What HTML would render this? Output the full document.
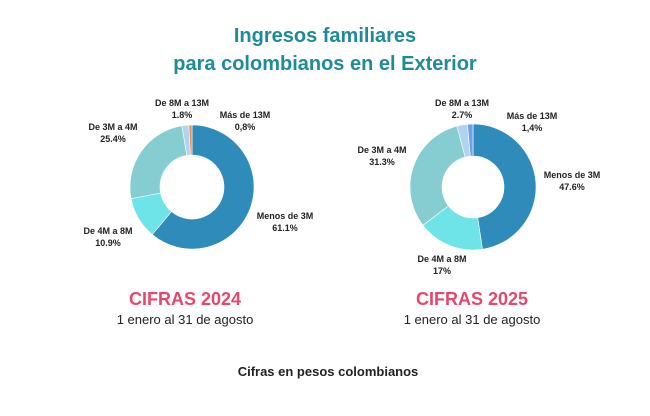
<!DOCTYPE html>
<html><head><meta charset="utf-8"><style>
body{margin:0;background:#fff;width:650px;height:411px;overflow:hidden;font-family:"Liberation Sans",sans-serif}
svg text{font-family:"Liberation Sans",sans-serif}
</style></head><body>
<svg id="s" width="650" height="411" xmlns="http://www.w3.org/2000/svg">
<text x="325" y="42" text-anchor="middle" font-size="20" font-weight="bold" fill="#1e8b99">Ingresos familiares</text>
<text x="325" y="70" text-anchor="middle" font-size="20" font-weight="bold" fill="#1e8b99">para colombianos en el Exterior</text>
<g font-size="9" font-weight="bold" fill="#222" text-anchor="middle">
<text x="182" y="106">De 8M a 13M</text><text x="182" y="118">1.8%</text>
<text x="245" y="118">Más de 13M</text><text x="245" y="130">0,8%</text>
<text x="113" y="130">De 3M a 4M</text><text x="113" y="142">25.4%</text>
<text x="285" y="219">Menos de 3M</text><text x="285" y="231">61.1%</text>
<text x="108" y="234">De 4M a 8M</text><text x="108" y="246">10.9%</text>
<text x="462" y="106">De 8M a 13M</text><text x="462" y="118">2.7%</text>
<text x="532" y="119">Más de 13M</text><text x="532" y="131">1,4%</text>
<text x="382" y="153">De 3M a 4M</text><text x="382" y="165">31.3%</text>
<text x="572" y="178">Menos de 3M</text><text x="572" y="190">47.6%</text>
<text x="442" y="262">De 4M a 8M</text><text x="442" y="274">17%</text>
</g>
<text x="185" y="305" text-anchor="middle" font-size="18" font-weight="bold" fill="#e6476b">CIFRAS 2024</text>
<text x="185" y="324" text-anchor="middle" font-size="13" fill="#222">1 enero al 31 de agosto</text>
<text x="472" y="305" text-anchor="middle" font-size="18" font-weight="bold" fill="#e6476b">CIFRAS 2025</text>
<text x="472" y="324" text-anchor="middle" font-size="13" fill="#222">1 enero al 31 de agosto</text>
<text x="328" y="376" text-anchor="middle" font-size="13" font-weight="bold" fill="#222">Cifras en pesos colombianos</text>
</svg>
<script>
function donut(cx,cy,R,r,vals,cols){
 var s=document.getElementById('s'),a=0,tot=vals.reduce((p,c)=>p+c,0);
 vals.forEach(function(v,i){
  var a0=a/tot*2*Math.PI,a1=(a+v)/tot*2*Math.PI;a+=v;
  var L=(a1-a0)>Math.PI?1:0;
  function p(rr,t){return [cx+rr*Math.sin(t),cy-rr*Math.cos(t)];}
  var P0=p(R,a0),P1=p(R,a1),Q1=p(r,a1),Q0=p(r,a0);
  var d='M'+P0+' A'+R+','+R+' 0 '+L+' 1 '+P1+' L'+Q1+' A'+r+','+r+' 0 '+L+' 0 '+Q0+'Z';
  var e=document.createElementNS('http://www.w3.org/2000/svg','path');
  e.setAttribute('d',d);e.setAttribute('fill',cols[i]);e.setAttribute('stroke','#fff');e.setAttribute('stroke-width','0.6');
  s.appendChild(e);
 });
}
donut(192,187,62,32,[61.1,10.9,25.4,1.8,0.8],['#2e8bba','#6ee3e8','#86cdd1','#b0d3f0','#f08a4b']);
donut(473,187,63,31,[47.6,17,31.3,2.7,1.4],['#2e8bba','#6ee3e8','#86cdd1','#b0d3f0','#6fa0f0']);
</script>
</body></html>
